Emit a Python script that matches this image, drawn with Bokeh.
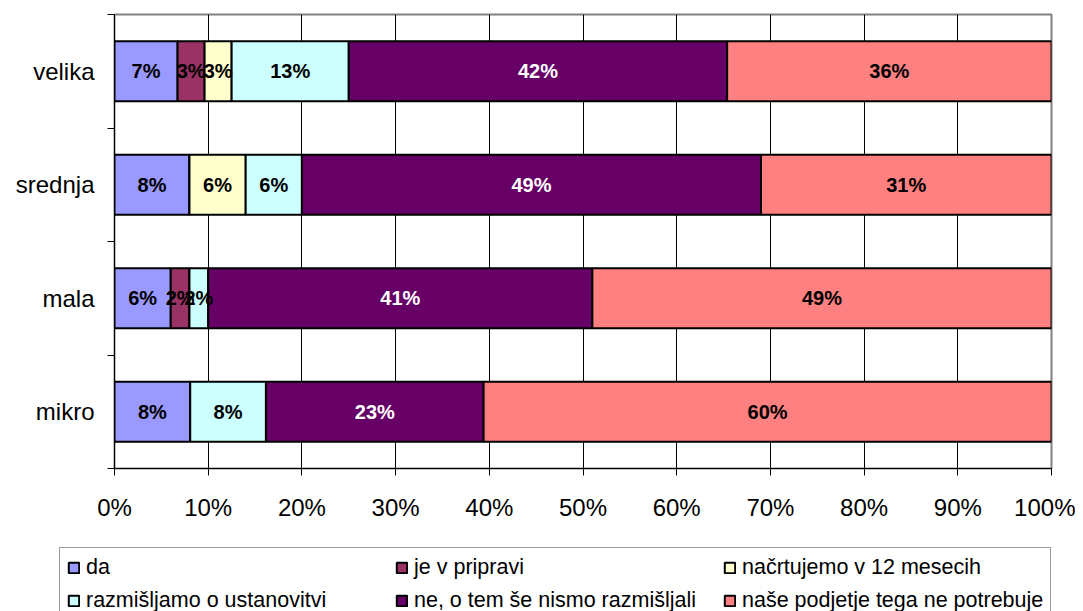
from bokeh.plotting import figure
from bokeh.models import (ColumnDataSource, FixedTicker, NumeralTickFormatter,
                          Legend, LegendItem, Range1d)
from bokeh.core.properties import value
from bokeh.embed import file_html
from bokeh.resources import INLINE

categories = ["mikro", "mala", "srednja", "velika"]
series_names = ["da", "je v pripravi", "načrtujemo v 12 mesecih",
                "razmišljamo o ustanovitvi", "ne, o tem še nismo razmišljali",
                "naše podjetje tega ne potrebuje"]
da = [8, 6, 8, 7]
je_v_pripravi = [0, 2, 0, 3]
nacrtujemo = [0, 0, 6, 3]
razmisljamo = [8, 2, 6, 13]
ne_razmisljali = [23, 41, 49, 42]
ne_potrebuje = [60, 49, 31, 36]
x_ticks = [0, 0.1, 0.2, 0.3, 0.4, 0.5, 0.6, 0.7, 0.8, 0.9, 1.0]

colors = ["#9999FF", "#993366", "#FFFFCC", "#CCFFFF", "#660066", "#FF8080"]
label_colors = ["black", "black", "black", "black", "white", "black"]
series = [da, je_v_pripravi, nacrtujemo, razmisljamo, ne_razmisljali, ne_potrebuje]

FONT = "Liberation Sans"

p = figure(frame_width=937, frame_height=454,
           x_range=Range1d(0, 1), y_range=Range1d(0, 4),
           output_backend="svg", toolbar_location=None,
           min_border_left=114, min_border_top=14,
           min_border_right=24, min_border_bottom=78)

# legend strip below the chart
pl = figure(width=1075, height=65, output_backend="svg", toolbar_location=None,
            x_axis_type=None, y_axis_type=None,
            min_border_left=0, min_border_right=0, min_border_top=0, min_border_bottom=0,
            x_range=Range1d(0, 1), y_range=Range1d(0, 4))
pl.outline_line_color = None
pl.grid.visible = False

totals = [sum(s[i] for s in series) for i in range(len(categories))]
ypos = [i + 0.5 for i in range(len(categories))]

cum = [0.0] * len(categories)
label_x, label_y, label_t, label_c = [], [], [], []
items = []
for k, s in enumerate(series):
    left = list(cum)
    right = [cum[i] + s[i] / totals[i] for i in range(len(categories))]
    src = ColumnDataSource(dict(y=ypos, left=left, right=right))
    p.hbar(y="y", left="left", right="right", height=0.53, source=src,
           fill_color=colors[k], line_color="black", line_width=2)
    # same series in the legend strip, hidden; only its legend swatch shows
    rl = pl.hbar(y="y", left="left", right="right", height=0.53, source=src,
                 fill_color=colors[k], line_color="black", line_width=2)
    rl.visible = False
    items.append(LegendItem(label=series_names[k], renderers=[rl]))
    for i in range(len(categories)):
        if s[i] > 0:
            label_x.append((left[i] + right[i]) / 2)
            label_y.append(ypos[i])
            label_t.append(f"{s[i]}%")
            label_c.append(label_colors[k])
    cum = right

lsrc = ColumnDataSource(dict(x=label_x, y=label_y, t=label_t, c=label_c))
p.text(x="x", y="y", text="t", source=lsrc, text_color="c",
       text_align="center", text_baseline="middle",
       text_font=value(FONT), text_font_style="bold", text_font_size="20px")

# x axis
p.xaxis.ticker = FixedTicker(ticks=x_ticks)
p.xaxis.formatter = NumeralTickFormatter(format="0%")
p.xaxis.major_label_text_font = FONT
p.xaxis.major_label_text_font_size = "24px"
p.xaxis.major_label_text_color = "black"
p.xaxis.major_tick_in = 0
p.xaxis.major_tick_out = 7
p.xaxis.major_tick_line_color = "black"
p.xaxis.minor_tick_line_color = None
p.xaxis.axis_line_color = "black"
p.xaxis.major_label_standoff = 18

# y axis
p.yaxis.ticker = FixedTicker(ticks=ypos, minor_ticks=[0, 1, 2, 3, 4])
p.yaxis.major_label_overrides = {ypos[i]: categories[i] for i in range(len(categories))}
p.yaxis.major_label_text_font = FONT
p.yaxis.major_label_text_font_size = "24px"
p.yaxis.major_label_text_color = "black"
p.yaxis.major_tick_in = 0
p.yaxis.major_tick_out = 0
p.yaxis.minor_tick_in = 0
p.yaxis.minor_tick_out = 7
p.yaxis.minor_tick_line_color = "black"
p.yaxis.axis_line_color = "black"
p.yaxis.major_label_standoff = 13

p.xgrid.ticker = FixedTicker(ticks=x_ticks)
p.xgrid.grid_line_color = "black"
p.xgrid.grid_line_width = 1
p.ygrid.grid_line_color = None
p.outline_line_color = "#808080"
p.outline_line_width = 2

legend = Legend(items=items, location=(59, -10), orientation="horizontal", nrows=2,
                label_text_font=FONT, label_text_font_size="21.5px",
                label_text_color="black",
                glyph_width=13, glyph_height=13, label_standoff=6,
                label_width=301, spacing=8, padding=7, margin=0,
                border_line_color="#333333", border_line_width=1,
                background_fill_color="white", background_fill_alpha=1,
                inactive_fill_alpha=0, label_height=22)
pl.add_layout(legend)

open("out.html", "w").write(file_html([p, pl], INLINE))
